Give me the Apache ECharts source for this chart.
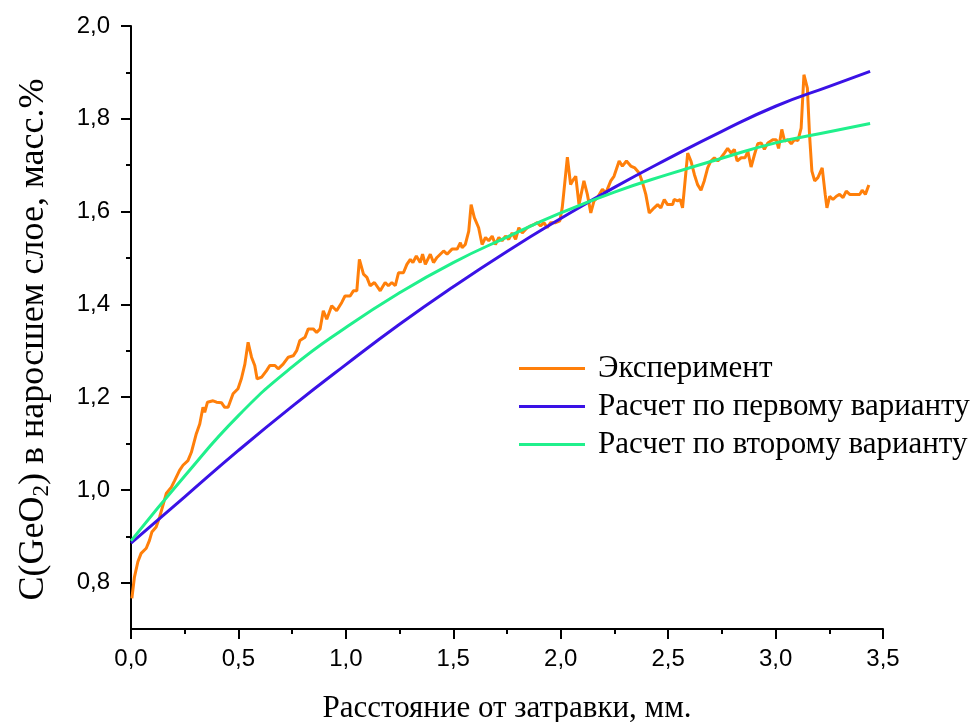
<!DOCTYPE html>
<html>
<head>
<meta charset="utf-8">
<script src="https://cdn.jsdelivr.net/npm/echarts@6/dist/echarts.min.js"></script>
<style>
  html, body { margin: 0; padding: 0; background: #fff; }
  #chart { width: 978px; height: 722px; }
</style>
</head>
<body>
<div id="chart"></div>
<script>
// данные эксперимента: расстояние (мм) и концентрация (масс.%)
var expX = [0.004, 0.016, 0.032, 0.047, 0.071, 0.086, 0.097, 0.117, 0.133, 0.149, 0.164, 0.188, 0.203, 0.226, 0.242, 0.265, 0.281, 0.304, 0.320, 0.335,
  0.343, 0.356, 0.382, 0.398, 0.421, 0.436, 0.452, 0.475, 0.498, 0.514, 0.530, 0.545, 0.561, 0.576, 0.587, 0.608, 0.631, 0.646, 0.670, 0.685,
  0.708, 0.732, 0.755, 0.771, 0.786, 0.810, 0.825, 0.848, 0.864, 0.880, 0.895, 0.911, 0.934, 0.957, 0.981, 0.996, 1.020, 1.035, 1.051, 1.063,
  1.082, 1.098, 1.113, 1.133, 1.160, 1.183, 1.198, 1.214, 1.230, 1.245, 1.268, 1.284, 1.300, 1.312, 1.328, 1.346, 1.357, 1.370, 1.393, 1.408,
  1.424, 1.455, 1.471, 1.494, 1.518, 1.533, 1.541, 1.556, 1.572, 1.583, 1.598, 1.618, 1.634, 1.650, 1.665, 1.681, 1.696, 1.712, 1.727, 1.743,
  1.758, 1.774, 1.790, 1.805, 1.821, 1.844, 1.860, 1.875, 1.891, 1.906, 1.922, 1.937, 1.953, 1.976, 1.996, 2.007, 2.015, 2.031, 2.046, 2.059,
  2.070, 2.085, 2.108, 2.124, 2.140, 2.155, 2.171, 2.194, 2.210, 2.233, 2.248, 2.272, 2.287, 2.306, 2.326, 2.345, 2.365, 2.381, 2.396, 2.412,
  2.435, 2.451, 2.466, 2.482, 2.497, 2.521, 2.528, 2.544, 2.556, 2.567, 2.591, 2.606, 2.622, 2.637, 2.653, 2.668, 2.684, 2.699, 2.715, 2.731,
  2.746, 2.762, 2.777, 2.793, 2.808, 2.821, 2.840, 2.858, 2.871, 2.886, 2.902, 2.917, 2.933, 2.948, 2.964, 2.987, 3.003, 3.014, 3.029, 3.042,
  3.057, 3.073, 3.088, 3.104, 3.119, 3.132, 3.140, 3.148, 3.158, 3.169, 3.182, 3.197, 3.217, 3.231, 3.239, 3.252, 3.267, 3.283, 3.298, 3.314,
  3.329, 3.345, 3.361, 3.376, 3.392, 3.403, 3.418, 3.434];
var expY = [0.766, 0.812, 0.845, 0.863, 0.874, 0.891, 0.909, 0.920, 0.941, 0.967, 0.992, 1.006, 1.020, 1.042, 1.053, 1.063, 1.081, 1.121, 1.142, 1.178,
  1.167, 1.189, 1.192, 1.189, 1.188, 1.178, 1.178, 1.207, 1.218, 1.240, 1.271, 1.318, 1.286, 1.268, 1.239, 1.243, 1.257, 1.268, 1.268, 1.261,
  1.271, 1.286, 1.289, 1.300, 1.322, 1.329, 1.347, 1.347, 1.339, 1.347, 1.386, 1.368, 1.397, 1.386, 1.404, 1.418, 1.418, 1.429, 1.429, 1.497,
  1.465, 1.458, 1.440, 1.447, 1.429, 1.447, 1.440, 1.447, 1.440, 1.468, 1.468, 1.486, 1.497, 1.490, 1.504, 1.490, 1.508, 1.486, 1.508, 1.490,
  1.501, 1.515, 1.508, 1.519, 1.519, 1.533, 1.522, 1.529, 1.558, 1.615, 1.587, 1.565, 1.529, 1.544, 1.537, 1.547, 1.529, 1.544, 1.537, 1.547,
  1.540, 1.554, 1.540, 1.565, 1.554, 1.565, 1.569, 1.572, 1.576, 1.569, 1.576, 1.565, 1.576, 1.576, 1.580, 1.608, 1.644, 1.717, 1.658, 1.669,
  1.676, 1.615, 1.666, 1.637, 1.597, 1.623, 1.630, 1.648, 1.640, 1.666, 1.676, 1.709, 1.698, 1.709, 1.698, 1.694, 1.683, 1.662, 1.637, 1.597,
  1.608, 1.615, 1.608, 1.626, 1.615, 1.615, 1.626, 1.623, 1.626, 1.608, 1.726, 1.709, 1.680, 1.658, 1.646, 1.666, 1.694, 1.709, 1.716, 1.709,
  1.716, 1.726, 1.736, 1.726, 1.734, 1.709, 1.716, 1.716, 1.730, 1.696, 1.723, 1.746, 1.748, 1.734, 1.748, 1.755, 1.755, 1.736, 1.777, 1.752,
  1.755, 1.746, 1.755, 1.753, 1.780, 1.895, 1.891, 1.866, 1.766, 1.687, 1.666, 1.673, 1.694, 1.637, 1.608, 1.633, 1.626, 1.633, 1.637, 1.630,
  1.644, 1.637, 1.637, 1.637, 1.637, 1.646, 1.637, 1.657];

// расчетные кривые
var calcX = [0, 0.25, 0.5, 0.75, 1.0, 1.25, 1.5, 1.75, 2.0, 2.25, 2.5, 2.75, 3.0, 3.25, 3.44];
var calc1Y = [0.885, 0.985, 1.085, 1.180, 1.270, 1.357, 1.438, 1.514, 1.585, 1.652, 1.714, 1.773, 1.827, 1.870, 1.902];
var calc2Y = [0.890, 1.030, 1.160, 1.265, 1.350, 1.425, 1.490, 1.545, 1.597, 1.642, 1.680, 1.715, 1.748, 1.772, 1.790];

var seriesNames = ['Эксперимент', 'Расчет по первому варианту', 'Расчет по второму варианту'];

function pairs(xs, ys) {
  return xs.map(function(x, i) { return [x, ys[i]]; });
}
function comma(v) {
  return v.toFixed(1).replace('.', ',');
}

var chart = echarts.init(document.getElementById('chart'));

var axisLine = { show: true, lineStyle: { color: '#000', width: 2 } };

var option = {
  backgroundColor: '#fff',
  animation: false,
  grid: [
    { left: 131, right: 95, top: 26, bottom: 93, containLabel: false, outerBoundsMode: 'none' },
    // отдельная сетка только для подписей оси Y (0,8 ... 2,0)
    { left: 131, right: 95, top: 26, bottom: 139.25, containLabel: false, outerBoundsMode: 'none' }
  ],
  legend: {
    orient: 'vertical',
    left: 519,
    top: 353,
    padding: 0,
    icon: 'rect',
    itemWidth: 66,
    itemHeight: 3,
    itemGap: 7,
    data: seriesNames,
    textStyle: { fontFamily: 'Liberation Serif', fontSize: 31, color: '#000', padding: [0, 0, 0, 8] }
  },
  xAxis: [{
    type: 'value',
    gridIndex: 0,
    min: 0,
    max: 3.5,
    interval: 0.5,
    name: 'Расстояние от затравки, мм.',
    nameLocation: 'middle',
    nameGap: 64,
    nameTextStyle: { fontFamily: 'Liberation Serif', fontSize: 31, color: '#000' },
    axisLine: axisLine,
    axisTick: { show: true, length: 10, lineStyle: { color: '#000', width: 2 } },
    minorTick: { show: true, splitNumber: 2, length: 5, lineStyle: { color: '#000', width: 2 } },
    axisLabel: { fontFamily: 'Liberation Sans', fontSize: 24, color: '#000', margin: 18, formatter: comma },
    splitLine: { show: false }
  }, {
    type: 'value',
    gridIndex: 1,
    min: 0,
    max: 3.5,
    show: false
  }],
  yAxis: [{
    type: 'value',
    gridIndex: 0,
    min: 0.7,
    max: 2.0,
    name: '{a|C(GeO}{s|2}{a|) в наросшем слое, масс.%}',
    nameLocation: 'middle',
    nameGap: 78,
    nameTextStyle: {
      padding: [0, 24, 0, 0],
      rich: {
        a: { fontFamily: 'Liberation Serif', fontSize: 36, color: '#000' },
        s: { fontFamily: 'Liberation Serif', fontSize: 23, color: '#000', padding: [16, 0, 0, 0] }
      }
    },
    axisLine: axisLine,
    axisTick: { show: false },
    axisLabel: { show: false },
    splitLine: { show: false }
  }, {
    type: 'value',
    gridIndex: 1,
    min: 0.8,
    max: 2.0,
    interval: 0.2,
    axisLine: { show: false },
    axisTick: { show: true, length: 10, lineStyle: { color: '#000', width: 2 } },
    minorTick: { show: true, splitNumber: 2, length: 5, lineStyle: { color: '#000', width: 2 } },
    axisLabel: { fontFamily: 'Liberation Sans', fontSize: 24, color: '#000', margin: 21, formatter: comma },
    splitLine: { show: false }
  }],
  series: [{
    name: seriesNames[0],
    type: 'line',
    xAxisIndex: 0,
    yAxisIndex: 0,
    symbol: 'none',
    color: '#ff7f0a',
    lineStyle: { width: 3, color: '#ff7f0a' },
    data: pairs(expX, expY)
  }, {
    name: seriesNames[1],
    type: 'line',
    xAxisIndex: 0,
    yAxisIndex: 0,
    symbol: 'none',
    smooth: true,
    color: '#3a12e6',
    lineStyle: { width: 3, color: '#3a12e6' },
    data: pairs(calcX, calc1Y)
  }, {
    name: seriesNames[2],
    type: 'line',
    xAxisIndex: 0,
    yAxisIndex: 0,
    symbol: 'none',
    smooth: true,
    color: '#20f08c',
    lineStyle: { width: 3, color: '#20f08c' },
    data: pairs(calcX, calc2Y)
  }]
};

chart.setOption(option);
</script>
</body>
</html>
